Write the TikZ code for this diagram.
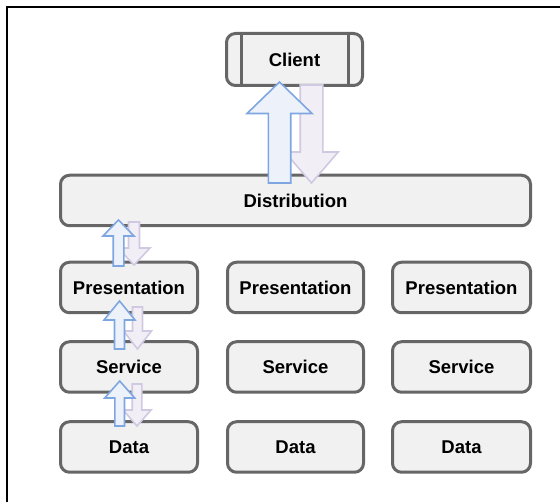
\documentclass[tikz,border=0pt]{standalone}
\usepackage{fontspec}
\setmainfont{Liberation Sans}
\definecolor{boxfill}{HTML}{F1F1F1}
\definecolor{boxline}{HTML}{666666}
\definecolor{upline}{HTML}{7EA6E0}
\definecolor{upfill}{HTML}{EDF2FA}
\definecolor{dnline}{HTML}{D1C8E1}
\definecolor{dnfill}{HTML}{F1EEF6}
\tikzset{
  layer/.style={draw=boxline, fill=boxfill, line width=3pt, rounded corners=9pt,
    font=\bfseries\fontsize{18.5}{20}\selectfont, inner sep=0pt,
    minimum height=50.5pt},
  uparrowstyle/.style={draw=upline, fill=upfill, line width=1.6pt, line join=miter},
  dnarrowstyle/.style={draw=dnline, fill=dnfill, line width=1.6pt, line join=miter},
}
% cx, tip, headbase, bottom, shafthalf, headhalf
\newcommand\blockup[6]{%
  \draw[uparrowstyle] (#1-#5,#4) -- (#1-#5,#3) -- (#1-#6,#3) -- (#1,#2) -- (#1+#6,#3) -- (#1+#5,#3) -- (#1+#5,#4) -- cycle;}
% cx, top, headbase, tip, shafthalf, headhalf
\newcommand\blockdown[6]{%
  \draw[dnarrowstyle] (#1-#5,#2) -- (#1+#5,#2) -- (#1+#5,#3) -- (#1+#6,#3) -- (#1,#4) -- (#1-#6,#3) -- (#1-#5,#3) -- cycle;}
\begin{document}
\begin{tikzpicture}[x=1pt,y=-1pt]
\useasboundingbox (0,0) rectangle (560,502);
\draw[line width=2pt] (560,7) -- (7,7) -- (7,502);

% client
\node[layer, minimum width=136pt, minimum height=52pt] (client) at (294.5,59.5) {Client};
\draw[boxline, line width=3pt] ([xshift=16.5pt]client.north west) -- ([xshift=16.5pt]client.south west);
\draw[boxline, line width=3pt] ([xshift=-15.5pt]client.north east) -- ([xshift=-15.5pt]client.south east);

% distribution
\node[layer, minimum width=470pt] (dist) at (295.5,200.5) {Distribution};

% tiers
\node[layer, minimum width=137pt] (pres1) at (129,287.5) {Presentation};
\node[layer, minimum width=136pt] (pres2) at (295.5,287.5) {Presentation};
\node[layer, minimum width=138pt] (pres3) at (461.5,287.5) {Presentation};
\node[layer, minimum width=137pt] (serv1) at (129,367) {Service};
\node[layer, minimum width=136pt] (serv2) at (295.5,367) {Service};
\node[layer, minimum width=138pt] (serv3) at (461.5,367) {Service};
\node[layer, minimum width=137pt] (data1) at (129,447) {Data};
\node[layer, minimum width=136pt] (data2) at (295.5,447) {Data};
\node[layer, minimum width=138pt] (data3) at (461.5,447) {Data};

% big arrows client <-> distribution
\blockdown{311.5}{85}{152}{183}{11.3}{26.7}
\blockup{279.5}{82}{113.5}{183}{11.2}{32.5}

% small arrows distribution <-> presentation
\blockdown{134}{222}{248}{265}{5.5}{16}
\blockup{118.5}{220}{236}{266}{5.3}{15.5}

% presentation <-> service
\blockdown{137.5}{307}{331}{349}{5}{14}
\blockup{119.5}{301}{320}{349}{5}{15.5}

% service <-> data
\blockdown{137}{384}{410}{426}{4.8}{14}
\blockup{119.7}{381}{398}{426}{4.8}{15}
\end{tikzpicture}
\end{document}
